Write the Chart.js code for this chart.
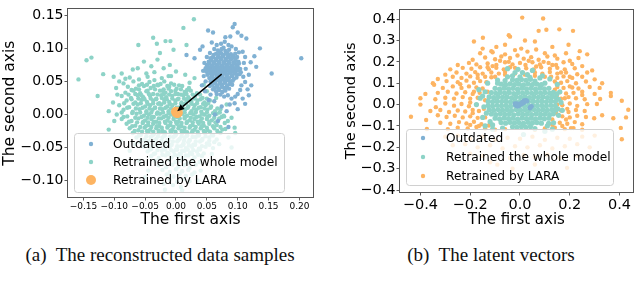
<!DOCTYPE html>
<html>
<head>
<meta charset="utf-8">
<script src="https://cdn.jsdelivr.net/npm/chart.js@4.4.1/dist/chart.umd.min.js"></script>
<style>
  body { margin: 0; background: #fff; width: 640px; height: 292px; overflow: hidden; position: relative; }
  .panel { position: absolute; top: 0; width: 320px; height: 232px; }
  .cap { position: absolute; top: 245px; font-family: "Liberation Serif", serif; font-size: 19px; line-height: 19px;
         color: #111; white-space: nowrap; transform: translateX(-50%); }
</style>
</head>
<body>
<div class="panel" style="left:0"><canvas id="left" width="320" height="232"></canvas></div>
<div class="panel" style="left:320px"><canvas id="right" width="320" height="232"></canvas></div>
<div class="cap" style="left:160px">(a)&nbsp; The reconstructed data samples</div>
<div class="cap" style="left:491px">(b)&nbsp; The latent vectors</div>
<script>
// series labels and colours (Set3)
const labels = ['Outdated', 'Retrained the whole model', 'Retrained by LARA'];
const BLUE = '#80b1d3', TEAL = '#8dd3c7', ORANGE = '#fdb462';

// ---- panel (a): reconstructed samples, values x1000, flat [x, y, x, y, ...]
const outdatedA = [
  68,97, 74,99, 80,96, 86,98, 77,101, 71,94, 83,93,
  61,90, 65,92, 69,89, 73,93, 77,90, 81,92, 85,89, 89,91, 93,88, 96,92,
  56,85, 60,87, 64,84, 68,87, 72,85, 76,88, 80,84, 84,87, 88,85, 92,86, 96,84, 99,87,
  53,80, 57,82, 61,79, 65,82, 69,80, 73,83, 77,79, 81,82, 85,80, 89,83, 93,79, 97,81, 101,80,
  50,75, 54,77, 58,74, 62,77, 66,75, 70,78, 74,74, 78,77, 82,75, 86,78, 90,74, 94,77, 98,75, 102,77,
  48,70, 52,72, 56,69, 60,72, 64,70, 68,73, 72,69, 76,72, 80,70, 84,73, 88,69, 92,72, 96,70, 100,72, 104,69,
  49,65, 53,67, 57,64, 61,67, 65,65, 69,68, 73,64, 77,67, 81,65, 85,68, 89,64, 93,67, 97,65, 101,67, 105,64,
  51,60, 55,62, 59,59, 63,62, 67,60, 71,63, 75,59, 79,62, 83,60, 87,63, 91,59, 95,62, 99,60, 103,61,
  54,55, 58,57, 62,54, 66,57, 70,55, 74,58, 78,54, 82,57, 86,55, 90,58, 94,54, 98,56,
  56,50, 60,52, 64,49, 68,52, 72,50, 76,53, 80,49, 84,52, 88,50, 92,51,
  59,45, 63,47, 67,44, 71,47, 75,45, 79,48, 83,44, 87,46, 91,45,
  62,40, 66,42, 70,39, 74,42, 78,40, 82,41, 86,39,
  65,35, 70,37, 75,34, 80,36,
  203,85, 155,62, 136,100, 95,137, 92,132, 114,115, 112,16, 85,-19, 118,29, 122,44, 60,124, 52,127,
  39,98, 63,0, 68,-10, 108,95, 112,87, 110,78, 113,69, 109,57, 112,49, 106,44, 104,37, 100,31,
  96,27, 90,24, 84,29, 78,27, 72,30, 66,31, 60,38, 55,43, 48,50, 45,58, 44,66, 46,78, 50,87,
  55,93, 62,99, 66,105, 73,107, 79,110, 85,105, 90,103, 97,99, 102,94, 118,60, 121,79, 106,119,
  100,124, 88,118, 80,117, 58,109, 43,103, 130,72, 127,88, 116,38, 108,24, 95,17, 87,15, 82,5,
  74,12, 62,20, 53,22, 56,30, 42,44, 47,35, 100,8, 17,90, 30,85
];
const wholeA = [
  -75,56, -60,53, -46,57, -35,52, -23,55, -12,58,
  -85,47, -69,50, -55,46, -43,49, -30,45, -19,50, -8,47, 5,44,
  -78,42, -65,39, -52,43, -41,40, -29,44, -20,38, -11,42, 1,39, 10,43, 21,40,
  -82,33, -69,36, -58,32, -48,35, -37,31, -26,36, -17,33, -8,35, 3,31, 14,34, 24,36, 34,32,
  -88,28, -73,25, -62,29, -53,26, -42,28, -32,24, -24,29, -16,26, -6,28, 4,24, 12,29, 20,26, 31,28, 43,25,
  -80,21, -66,18, -56,22, -47,19, -37,21, -27,17, -19,22, -11,19, -1,21, 9,18, 17,22, 25,19, 35,21, 46,18, 55,21,
  -92,14, -76,11, -62,15, -50,12, -42,14, -34,10, -24,15, -14,12, -6,14, 4,10, 12,15, 20,12, 30,14, 40,11, 48,14, 57,12,
  -85,7, -70,4, -59,8, -48,5, -38,7, -30,3, -22,8, -12,5, -2,7, 6,3, 15,8, 25,5, 33,7, 41,4, 51,7, 63,5, 72,8,
  -96,0, -79,-3, -64,1, -52,-2, -44,0, -36,-4, -26,1, -16,-2, -8,0, 2,-4, 10,1, 18,-2, 28,0, 38,-3, 46,0, 54,-2, 66,1, 78,-3,
  -88,-7, -72,-10, -61,-6, -50,-9, -40,-7, -32,-11, -24,-6, -14,-9, -4,-7, 4,-11, 14,-6, 22,-9, 30,-7, 40,-10, 50,-7, 58,-9, 70,-6, 84,-10,
  -80,-14, -66,-17, -54,-13, -45,-16, -37,-14, -27,-18, -17,-13, -9,-16, 1,-14, 9,-18, 17,-13, 27,-16, 37,-14, 45,-17, 54,-14, 66,-16, 79,-13,
  -75,-21, -61,-24, -51,-20, -42,-23, -32,-21, -22,-25, -14,-20, -6,-23, 4,-21, 14,-25, 22,-20, 30,-23, 40,-21, 51,-24, 62,-21, 75,-23, 95,-20,
  -70,-28, -57,-31, -45,-27, -36,-30, -28,-28, -18,-32, -8,-27, 0,-30, 10,-28, 18,-32, 26,-27, 36,-30, 47,-28, 58,-31, 72,-28,
  -64,-35, -51,-38, -41,-34, -32,-37, -22,-35, -12,-39, -4,-34, 6,-37, 14,-35, 22,-39, 32,-34, 43,-37, 54,-35, 66,-38,
  -58,-42, -46,-45, -34,-41, -25,-44, -17,-42, -7,-46, 2,-41, 12,-44, 20,-42, 28,-46, 39,-41, 50,-44, 62,-42,
  -52,-49, -40,-52, -30,-48, -19,-51, -10,-49, 0,-53, 8,-48, 16,-51, 26,-49, 37,-52, 48,-49, 60,-51,
  -46,-56, -34,-59, -23,-55, -14,-58, -4,-56, 6,-60, 14,-55, 23,-58, 34,-56, 45,-59,
  -40,-63, -28,-66, -17,-62, -7,-65, 3,-63, 11,-67, 20,-62, 30,-65, 42,-63,
  -34,-70, -22,-73, -11,-69, -1,-72, 8,-70, 18,-74, 27,-69, 38,-72,
  -28,-77, -16,-80, -6,-76, 4,-79, 13,-77, 22,-81, 32,-76,
  -22,-84, -10,-87, 0,-83, 10,-86, 20,-84, 30,-88,
  -15,-91, -4,-94, 6,-90, 16,-93, 26,-91,
  -10,-99, 2,-102, 12,-98, 22,-101, -5,-107, 8,-110, -18,-114,
  // inner, denser part of the cloud
  -60,44, -47,45, -36,43, -25,46, -14,43, -3,45,
  -72,37, -60,38, -46,36, -34,38, -22,36, -12,39, -1,36, 8,38, 18,37,
  -77,30, -66,31, -56,29, -44,31, -30,30, -20,31, -11,30, -1,31, 8,30, 17,31, 27,30, 39,30,
  -72,23, -61,24, -51,23, -41,24, -32,23, -23,25, -15,23, -6,24, 3,23, 13,24, 22,23, 30,24, 40,23, 50,24,
  -84,17, -69,16, -57,17, -46,16, -37,17, -29,16, -19,18, -10,16, -1,17, 8,16, 16,17, 25,16, 34,17, 44,16, 52,17,
  -79,10, -65,9, -54,10, -43,9, -34,10, -26,9, -17,10, -8,9, 1,10, 10,9, 19,10, 29,9, 37,10, 46,9, 56,10, 67,9,
  -88,3, -71,2, -58,3, -48,2, -40,3, -31,1, -21,3, -12,2, -3,3, 6,1, 14,3, 23,2, 32,3, 42,1, 50,3, 60,2, 71,3,
  -85,-4, -66,-5, -56,-4, -46,-5, -39,-4, -28,-6, -20,-4, -12,-5, -3,-4, 6,-6, 14,-4, 24,-5, 33,-4, 42,-6, 51,-4, 62,-5, 74,-4,
  -76,-11, -63,-12, -53,-11, -45,-12, -36,-11, -27,-13, -18,-11, -9,-12, 0,-11, 9,-13, 18,-11, 27,-12, 35,-11, 44,-13, 54,-11, 64,-12,
  -71,-18, -58,-19, -49,-18, -40,-19, -31,-18, -23,-20, -13,-18, -4,-19, 5,-18, 14,-20, 23,-18, 32,-19, 42,-18, 50,-20, 60,-18, 72,-19,
  -67,-25, -55,-26, -47,-25, -37,-26, -28,-25, -18,-27, -9,-25, -1,-26, 9,-25, 18,-27, 27,-25, 35,-26, 45,-25, 55,-26, 67,-25,
  -60,-32, -48,-33, -38,-32, -29,-33, -19,-32, -10,-34, -1,-32, 9,-33, 18,-32, 27,-34, 37,-32, 48,-33, 60,-32,
  -56,-39, -44,-40, -34,-39, -24,-40, -14,-39, -5,-41, 4,-39, 13,-40, 22,-39, 32,-41, 42,-39, 54,-40,
  -50,-46, -38,-47, -28,-46, -18,-47, -8,-46, 2,-48, 12,-46, 21,-47, 31,-46, 42,-48, 54,-46,
  -42,-53, -30,-54, -18,-53, -8,-54, 2,-53, 10,-55, 19,-53, 28,-54, 39,-53,
  -36,-60, -22,-61, -12,-60, -2,-61, 8,-60, 16,-62, 26,-60, 36,-61,
  // outer scatter
  -158,53, -145,82, -137,86, -127,28, -118,61, -109,5, -109,-23, -101,57, -92,50, -82,54, -61,105, -37,116,
  -31,107, -17,111, -9,111, 12,131, 29,144, 17,105, -4,98, -26,93, -40,73, -30,83, 77,-2, 96,-28, -52,80,
  -20,70, -70,68, -95,30, -100,-10, -90,-40, -75,-55, -60,-70, -45,-85, -48,62, -62,70, -102,18, 58,-60,
  70,-45, 85,-35, 90,-5, 82,15, 65,25, 50,35, 45,45, 30,55, 15,60, 0,65, -10,75, -50,-95, 40,-85, 35,-100,
  10,-115, -20,-105, -88,62, -35,64, -8,58, 22,48, -97,40, -66,-45, 80,-22, 90,-50
];
const laraA = [1,3, 2,2, 0,4, 3,3];
const arrowA = [0.074, 0.061, 0.002, 0.005];   // tail x, y -> head x, y
const xRangeA = [-0.175, 0.222], yRangeA = [-0.125, 0.159];
const xTicksA = [-0.15, -0.10, -0.05, 0, 0.05, 0.10, 0.15, 0.20];
const yTicksA = [-0.10, -0.05, 0, 0.05, 0.10, 0.15];

// ---- panel (b): latent vectors, values x1000
const outdatedB = [-18,-2, -12,4, -6,0, -14,-6, -2,-4, 4,6, 10,12, 16,18, 20,14, 14,8, 8,4, 24,20,
  42,-12, 46,-8, 40,-16, 0,2, -8,-8, -20,4, 28,16];
const wholeB = [
  -30,-104, -12,-107, 6,-103, 24,-106, 42,-102,
  -76,-84, -58,-87, -40,-83, -22,-86, -4,-84, 14,-88, 32,-83, 50,-86, 68,-84, 86,-87,
  -100,-64, -82,-67, -64,-63, -46,-66, -28,-64, -10,-68, 8,-63, 26,-66, 44,-64, 62,-67, 80,-63, 98,-66, 116,-64,
  -115,-44, -97,-47, -79,-43, -61,-46, -43,-44, -25,-48, -7,-43, 11,-46, 29,-44, 47,-47, 65,-43, 83,-46, 101,-44, 119,-47, 134,-43,
  -124,-24, -106,-27, -88,-23, -70,-26, -52,-24, -34,-28, -16,-23, 2,-26, 20,-24, 38,-27, 56,-23, 74,-26, 92,-24, 110,-27, 128,-23, 144,-26,
  -128,-4, -110,-7, -92,-3, -74,-6, -56,-4, -38,-8, -20,-3, -2,-6, 16,-4, 34,-7, 52,-3, 70,-6, 88,-4, 106,-7, 124,-3, 142,-6,
  -128,16, -110,13, -92,17, -74,14, -56,16, -38,12, -20,17, -2,14, 16,16, 34,13, 52,17, 70,14, 88,16, 106,13, 124,17, 142,14,
  -124,36, -106,33, -88,37, -70,34, -52,36, -34,32, -16,37, 2,34, 20,36, 38,33, 56,37, 74,34, 92,36, 110,33, 128,37, 143,34,
  -115,56, -97,53, -79,57, -61,54, -43,56, -25,52, -7,57, 11,54, 29,56, 47,53, 65,57, 83,54, 101,56, 119,53, 134,57,
  -100,76, -82,73, -64,77, -46,74, -28,76, -10,72, 8,77, 26,74, 44,76, 62,73, 80,77, 98,74, 116,76,
  -76,96, -58,93, -40,97, -22,94, -4,96, 14,92, 32,97, 50,94, 68,96, 86,93,
  -30,116, -12,113, 6,117, 24,114, 42,118,
  -165,70, -160,30, -150,-60, -140,-100, -110,-115, -70,-110, 60,-112, 110,-100, 135,-85, 155,-50, 165,10,
  160,60, 150,95, 120,120, 80,125, 30,140, -20,150, -50,130, -90,115, -130,100, -50,168, 50,160, 90,135,
  -120,-80, 130,-115, 170,-27, -175,0, 100,-125, 14,-140,
  -150,40, -145,-10, -140,60, -135,-40, 148,50, 152,-20, 155,25, -90,100, -60,112, 60,110, 100,100, 0,130,
  -30,135, 40,128, -110,-95, 115,-88, 10,150, -8,165
];
const laraB = [
  9,407, 93,403, 75,345, 106,350, 158,352, 213,345, -45,325, -40,318, -185,295, -149,313, -115,250,
  -150,262, -95,270, -60,280, 130,270, 195,280, 60,295, 20,300,
  -160,240, -110,245, -60,235, -20,255, 5,262, 30,248, 65,258, 100,240, 140,230, 185,240, 240,250, 270,235,
  -190,210, -140,220, -100,212, -75,225, -40,218, -10,230, 15,215, 45,222, 75,210, 110,225, 150,215, 200,205, 235,218,
  -250,185, -205,195, -175,188, -130,192, -95,185, -60,198, -30,188, 0,195, 22,185, 50,198, 80,188, 115,195,
  145,185, 175,198, 210,190, 250,180,
  -280,165, -230,172, -195,168, -160,175, -125,165, -95,172, -65,165, -40,175, 25,170, 55,165, 85,175, 120,168,
  150,172, 180,165, 220,170, 290,160,
  -300,140, -255,150, -215,145, -180,152, -150,145, -115,150, -85,145, -60,152, 60,150, 90,145, 120,152, 150,145,
  185,150, 230,142, 270,150,
  -330,120, -270,130, -235,125, -200,132, -170,125, -140,130, -115,128, 125,130, 150,125, 175,132, 210,125, 250,130, 300,118,
  -350,100, -295,110, -250,105, -215,112, -185,102, -160,110, -135,105, 140,108, 165,102, 190,110, 225,100, 265,108, 330,100,
  -345,93, -310,78, -270,85, -235,78, -205,85, -175,80, -150,75, 150,82, 175,78, 200,85, 235,75, 280,82, 320,78,
  -380,50, -330,55, -290,60, -255,52, -220,58, -190,50, -162,55, 160,58, 185,52, 215,55, 250,60, 300,50, 365,55,
  -400,30, -340,25, -300,32, -265,28, -230,35, -200,28, -170,32, 165,28, 195,35, 225,30, 260,25, 322,26, 365,40,
  -400,0, -338,-12, -300,5, -265,-5, -235,3, -205,-8, -175,0, 170,-3, 200,5, 230,-6, 270,2, 309,3, 409,18, 435,-24,
  -360,-30, -320,-25, -285,-35, -250,-28, -220,-32, -190,-25, -165,-30, 165,-28, 195,-35, 225,-25, 260,-30, 298,-64,
  375,-64, 426,-60,
  -438,-57, -377,-72, -330,-50, -295,-58, -262,-52, -230,-60, -200,-55, -170,-62, 170,-55, 200,-60, 230,-52, 265,-58, 330,-50,
  -374,-114, -320,-85, -280,-90, -245,-82, -215,-88, -185,-80, -155,-92, -125,-98, 130,-95, 160,-85, 190,-90,
  220,-82, 250,-92, 405,-109,
  -290,-115, -250,-108, -210,-112, -175,-105, -140,-112, -100,-118, -60,-115, 60,-118, 100,-112, 140,-108,
  180,-115, 215,-110, 250,-118, 409,-162,
  -300,-150, -250,-145, -200,-160, -150,-150, -100,-165, -50,-155, 0,-160, 50,-150, 100,-165, 150,-155, 200,-160, 250,-150, 300,-145,
  -270,-190, -220,-185, -170,-200, -120,-190, -70,-205, -20,-195, 30,-200, 80,-190, 130,-205, 180,-195, 230,-185, 280,-200,
  -200,-230, -150,-240, -91,-281, -40,-250, 15,-236, 60,-245, 110,-235, 160,-250, 189,-296, 230,-240, -120,-270, 60,-280, -30,-300,
  -130,60, -140,20, -145,-20, -140,-60, -120,-90, 130,-70, 145,-40, 150,0, 148,40, 140,70, -100,130, -60,140, -20,145,
  20,140, 60,135, 100,130,
  -170,140, -130,175, -80,205, -45,200, 35,205, 95,200, 130,185, 165,150, 200,130, 210,80, 180,30, 190,-20, 185,-70,
  -185,60, -200,10, -190,-40, -165,-100, -200,-95, 170,-100, 205,-110, -110,180, 65,178, -20,172, -240,95, 250,45
];
const xRangeB = [-0.482, 0.454], yRangeB = [-0.409, 0.444];
const xTicksB = [-0.4, -0.2, 0, 0.2, 0.4];
const yTicksB = [-0.4, -0.3, -0.2, -0.1, 0, 0.1, 0.2, 0.3, 0.4];

const FONT = 'DejaVu Sans';
const toPts = arr => { const out = []; for (let i = 0; i < arr.length; i += 2) out.push({x: arr[i] / 1000, y: arr[i + 1] / 1000}); return out; };
const fmt = d => v => (v < 0 ? '\u2212' : '') + Math.abs(v).toFixed(d);

// frame, arrow and the matplotlib style legend drawn over the points
const overlay = {
  id: 'overlay',
  afterDatasetsDraw(chart, args, o) {
    const {ctx, chartArea: a, scales: {x, y}} = chart;
    ctx.save();
    if (o.arrow) {
      const px0 = x.getPixelForValue(o.arrow[0]), py0 = y.getPixelForValue(o.arrow[1]);
      const px1 = x.getPixelForValue(o.arrow[2]), py1 = y.getPixelForValue(o.arrow[3]);
      const ang = Math.atan2(py1 - py0, px1 - px0), hl = 7, hw = 3.2;
      const bx = px1 - hl * Math.cos(ang), by = py1 - hl * Math.sin(ang);
      ctx.strokeStyle = '#000'; ctx.lineWidth = 1.4;
      ctx.beginPath(); ctx.moveTo(px0, py0); ctx.lineTo(bx, by); ctx.stroke();
      ctx.fillStyle = '#000';
      ctx.beginPath(); ctx.moveTo(px1, py1);
      ctx.lineTo(bx + hw * Math.sin(ang), by - hw * Math.cos(ang));
      ctx.lineTo(bx - hw * Math.sin(ang), by + hw * Math.cos(ang));
      ctx.closePath(); ctx.fill();
    }
    const L = o.legend;
    ctx.beginPath(); ctx.roundRect(L.x + 0.5, L.y + 0.5, L.w, L.h, 3);
    ctx.fillStyle = 'rgba(255,255,255,0.8)'; ctx.fill();
    ctx.strokeStyle = '#d0d0d0'; ctx.lineWidth = 1; ctx.stroke();
    ctx.font = '12.2px "' + FONT + '"'; ctx.textBaseline = 'middle';
    L.rows.forEach((ry, i) => {
      ctx.fillStyle = L.colors[i];
      ctx.beginPath(); ctx.arc(L.mx, ry, L.radius[i], 0, Math.PI * 2); ctx.fill();
      ctx.fillStyle = '#000'; ctx.fillText(labels[i], L.tx, ry + 0.5);
    });
    ctx.strokeStyle = '#555'; ctx.lineWidth = 1;
    ctx.strokeRect(Math.round(a.left) - 0.5, Math.round(a.top) - 0.5, Math.round(a.right - a.left) + 1, Math.round(a.bottom - a.top) + 1);
    ctx.restore();
  }
};

function axis(range, ticks, digits, tickSize, title, titleSize, titlePad, fit) {
  return {
    type: 'linear', min: range[0], max: range[1],
    afterBuildTicks: s => { s.ticks = ticks.map(v => ({value: v})); },
    afterFit: fit,
    border: {display: false},
    grid: {drawOnChartArea: false, drawTicks: true, tickLength: 3.5, color: '#333', lineWidth: 0.8},
    ticks: {font: {family: FONT, size: tickSize}, color: '#000', padding: 1, maxRotation: 0, autoSkip: false, callback: fmt(digits)},
    title: {display: true, text: title, color: '#000', font: {family: FONT, size: titleSize}, padding: titlePad}
  };
}

function panel(id, sets, xs, ys, legend, arrow) {
  new Chart(document.getElementById(id), {
    type: 'scatter',
    data: {datasets: sets},
    options: {
      responsive: false, animation: false, events: [],
      layout: {padding: {top: 2, right: 7, left: 0, bottom: 0}},
      elements: {point: {borderWidth: 0, hoverRadius: 0}},
      plugins: {legend: {display: false}, tooltip: {enabled: false}, overlay: {legend, arrow}},
      scales: {x: xs, y: ys}
    },
    plugins: [overlay]
  });
}

panel('left', [
  {label: labels[2], data: toPts(laraA), backgroundColor: ORANGE, pointRadius: 5, order: 0},
  {label: labels[0], data: toPts(outdatedA), backgroundColor: BLUE, pointRadius: 2.2, order: 1},
  {label: labels[1], data: toPts(wholeA), backgroundColor: TEAL, pointRadius: 2.2, order: 2}
],
  axis(xRangeA, xTicksA, 2, 9, 'The first axis', 15.5, {top: 0, bottom: 3}, s => { s.height = 35; }),
  axis(yRangeA, yTicksA, 2, 14, 'The second axis', 15.5, {top: 0.7, bottom: 0}, s => { s.width = 68; }),
  {x: 74, y: 133, w: 210, h: 59, rows: [144, 162, 180], mx: 91, tx: 113, colors: [BLUE, TEAL, ORANGE], radius: [2.2, 2.2, 5]},
  arrowA);

panel('right', [
  {label: labels[0], data: toPts(outdatedB), backgroundColor: BLUE, pointRadius: 2.4, order: 0},
  {label: labels[1], data: toPts(wholeB), backgroundColor: TEAL, pointRadius: 2.6, order: 1},
  {label: labels[2], data: toPts(laraB), backgroundColor: ORANGE, pointRadius: 2.2, order: 2}
],
  axis(xRangeB, xTicksB, 1, 14.5, 'The first axis', 15, {top: 0, bottom: 3}, s => { s.height = 40; }),
  axis(yRangeB, yTicksB, 1, 14.5, 'The second axis', 14.5, {top: 22.8, bottom: 0}, s => { s.width = 80; }),
  {x: 86, y: 129, w: 207, h: 56, rows: [138, 157, 176], mx: 103, tx: 126, colors: [BLUE, TEAL, ORANGE], radius: [2.2, 2.2, 2.2]},
  null);
</script>
</body>
</html>
